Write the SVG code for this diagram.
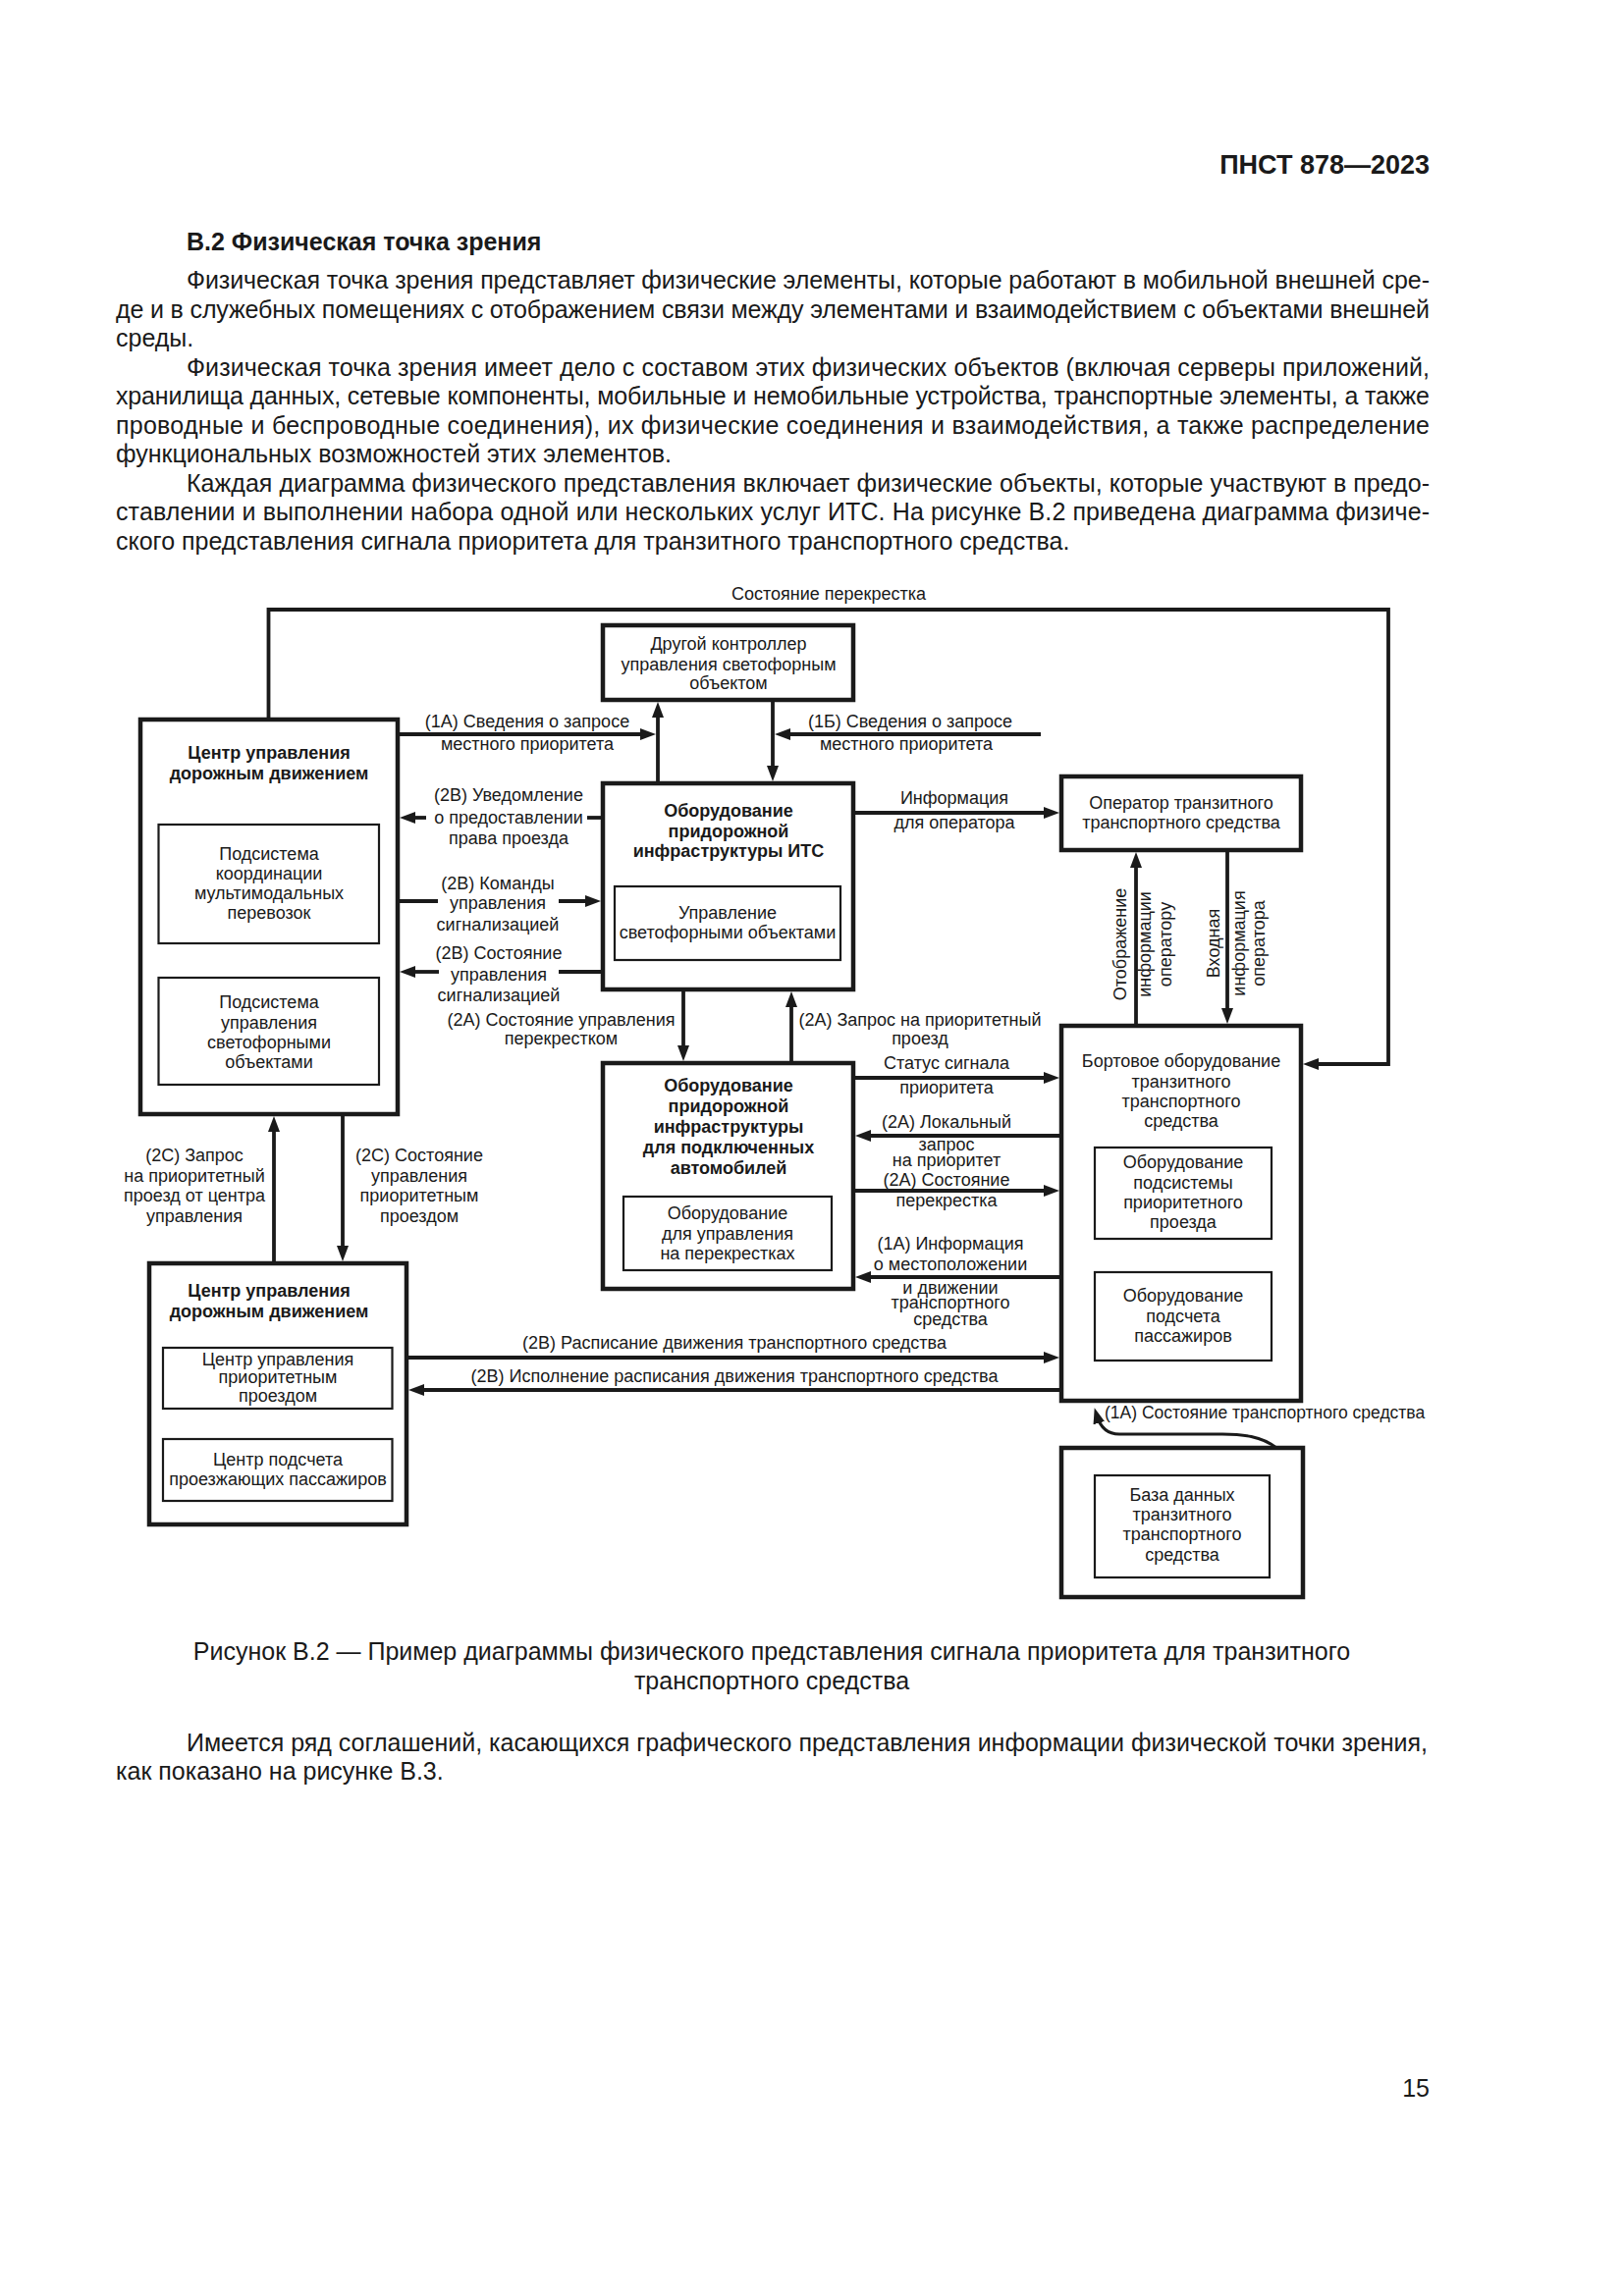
<svg xmlns="http://www.w3.org/2000/svg" width="1654" height="2339" viewBox="0 0 1654 2339">
<style>
.pg{font-family:"Liberation Sans",Arial,sans-serif;font-size:25px;fill:#1a1a1a}
.pb{font-weight:bold}
.t{font-family:"Liberation Sans",Arial,sans-serif;font-size:18px;fill:#1a1a1a;text-anchor:middle}
.b{font-weight:bold}
.ob{fill:#fff;stroke:#1a1a1a;stroke-width:4.5}
.ib{fill:none;stroke:#1a1a1a;stroke-width:2.2}
.c{fill:none;stroke:#1a1a1a;stroke-width:3.8}
.ca{fill:none;stroke:#1a1a1a;stroke-width:3.8;marker-end:url(#ah)}
.cs{fill:none;stroke:#1a1a1a;stroke-width:3;marker-end:url(#ah)}
</style>
<defs>
<marker id="ah" markerUnits="userSpaceOnUse" viewBox="0 0 16 12" refX="8" refY="6" markerWidth="16" markerHeight="12" orient="auto">
<path d="M0,0 L16,6 L0,12 z" fill="#1a1a1a"/>
</marker>
</defs>
<rect x="0" y="0" width="1654" height="2339" fill="#fff"/>

<g id="page">
<text class="pg pb" x="1456" y="177" text-anchor="end" style="font-size:27px">ПНСТ 878—2023</text>
<text class="pg pb" x="190" y="255">В.2 Физическая точка зрения</text>
<text class="pg" x="190" y="294" textLength="1266" lengthAdjust="spacing">Физическая точка зрения представляет физические элементы, которые работают в мобильной внешней сре-</text>
<text class="pg" x="118" y="323.5" textLength="1338" lengthAdjust="spacing">де и в служебных помещениях с отображением связи между элементами и взаимодействием с объектами внешней</text>
<text class="pg" x="118" y="353">среды.</text>
<text class="pg" x="190" y="382.5" textLength="1266" lengthAdjust="spacing">Физическая точка зрения имеет дело с составом этих физических объектов (включая серверы приложений,</text>
<text class="pg" x="118" y="412" textLength="1338" lengthAdjust="spacing">хранилища данных, сетевые компоненты, мобильные и немобильные устройства, транспортные элементы, а также</text>
<text class="pg" x="118" y="441.5" textLength="1338" lengthAdjust="spacing">проводные и беспроводные соединения), их физические соединения и взаимодействия, а также распределение</text>
<text class="pg" x="118" y="471">функциональных возможностей этих элементов.</text>
<text class="pg" x="190" y="500.5" textLength="1266" lengthAdjust="spacing">Каждая диаграмма физического представления включает физические объекты, которые участвуют в предо-</text>
<text class="pg" x="118" y="530" textLength="1338" lengthAdjust="spacing">ставлении и выполнении набора одной или нескольких услуг ИТС. На рисунке В.2 приведена диаграмма физиче-</text>
<text class="pg" x="118" y="559.5">ского представления сигнала приоритета для транзитного транспортного средства.</text>
<text class="pg" x="786" y="1691" text-anchor="middle">Рисунок В.2 — Пример диаграммы физического представления сигнала приоритета для транзитного</text>
<text class="pg" x="786" y="1721" text-anchor="middle">транспортного средства</text>
<text class="pg" x="190" y="1784" textLength="1264" lengthAdjust="spacing">Имеется ряд соглашений, касающихся графического представления информации физической точки зрения,</text>
<text class="pg" x="118" y="1813">как показано на рисунке В.3.</text>
<text class="pg" x="1456" y="2136" text-anchor="end">15</text>
</g>

<g id="connectors">
<polyline class="ca" points="273.5,733 273.5,621 1414,621 1414,1084 1335,1084"/>
<line class="ca" x1="405" y1="748" x2="660" y2="748"/>
<line class="ca" x1="670" y1="798" x2="670" y2="723"/>
<line class="ca" x1="787" y1="713" x2="787" y2="788"/>
<line class="ca" x1="1060" y1="748" x2="797" y2="748"/>
<line class="c" x1="614" y1="833" x2="598" y2="833"/>
<line class="ca" x1="434" y1="833" x2="415" y2="833"/>
<line class="c" x1="405" y1="918" x2="446" y2="918"/>
<line class="ca" x1="569" y1="918" x2="604" y2="918"/>
<line class="c" x1="614" y1="990" x2="569" y2="990"/>
<line class="ca" x1="447" y1="990" x2="415" y2="990"/>
<line class="ca" x1="869" y1="828" x2="1071" y2="828"/>
<line class="ca" x1="1157" y1="1045" x2="1157" y2="876"/>
<line class="ca" x1="1250" y1="866" x2="1250" y2="1035"/>
<line class="ca" x1="696" y1="1008" x2="696" y2="1073"/>
<line class="ca" x1="806" y1="1083" x2="806" y2="1018"/>
<line class="ca" x1="869" y1="1098" x2="1071" y2="1098"/>
<line class="ca" x1="1081" y1="1157" x2="879" y2="1157"/>
<line class="ca" x1="869" y1="1213" x2="1071" y2="1213"/>
<line class="ca" x1="1081" y1="1301" x2="879" y2="1301"/>
<line class="ca" x1="279" y1="1287" x2="279" y2="1145"/>
<line class="ca" x1="349" y1="1135" x2="349" y2="1277"/>
<line class="ca" x1="414" y1="1383" x2="1071" y2="1383"/>
<line class="ca" x1="1081" y1="1416" x2="424" y2="1416"/>
<path class="cs" d="M1300,1475 C1285,1463 1265,1461 1245,1461 L1140,1461 C1127,1461 1120,1452 1117,1442"/>

<text class="t" x="844" y="611">Состояние перекрестка</text>
<text class="t" x="537" y="741">(1А) Сведения о запросе</text>
<text class="t" x="537" y="764">местного приоритета</text>
<text class="t" x="927" y="741">(1Б) Сведения о запросе</text>
<text class="t" x="923" y="764">местного приоритета</text>
<text class="t" x="518" y="816">(2В) Уведомление</text>
<text class="t" x="518" y="839">о предоставлении</text>
<text class="t" x="518" y="859.5">права проезда</text>
<text class="t" x="507" y="905.5">(2В) Команды</text>
<text class="t" x="507" y="926">управления</text>
<text class="t" x="507" y="947.5">сигнализацией</text>
<text class="t" x="508" y="977">(2В) Состояние</text>
<text class="t" x="508" y="998.5">управления</text>
<text class="t" x="508" y="1020">сигнализацией</text>
<text class="t" x="571.5" y="1045">(2А) Состояние управления</text>
<text class="t" x="571.5" y="1064">перекрестком</text>
<text class="t" x="937" y="1045">(2А) Запрос на приоритетный</text>
<text class="t" x="937" y="1064">проезд</text>
<text class="t" x="972" y="818.5">Информация</text>
<text class="t" x="972" y="844">для оператора</text>
<text class="t" transform="translate(1147,962) rotate(-90)" x="0" y="0">Отображение</text>
<text class="t" transform="translate(1172,962) rotate(-90)" x="0" y="0">информации</text>
<text class="t" transform="translate(1193,962) rotate(-90)" x="0" y="0">оператору</text>
<text class="t" transform="translate(1242,961) rotate(-90)" x="0" y="0">Входная</text>
<text class="t" transform="translate(1268,961) rotate(-90)" x="0" y="0">информация</text>
<text class="t" transform="translate(1288,961) rotate(-90)" x="0" y="0">оператора</text>
<text class="t" x="964" y="1089">Статус сигнала</text>
<text class="t" x="964" y="1114">приоритета</text>
<text class="t" x="964" y="1149">(2А) Локальный</text>
<text class="t" x="964" y="1171.5">запрос</text>
<text class="t" x="964" y="1187.5">на приоритет</text>
<text class="t" x="964" y="1207.5">(2А) Состояние</text>
<text class="t" x="964" y="1229">перекрестка</text>
<text class="t" x="968" y="1273">(1А) Информация</text>
<text class="t" x="968" y="1294">о местоположении</text>
<text class="t" x="968" y="1317.5">и движении</text>
<text class="t" x="968" y="1333">транспортного</text>
<text class="t" x="968" y="1350">средства</text>
<text class="t" x="198" y="1182.5">(2С) Запрос</text>
<text class="t" x="198" y="1203.5">на приоритетный</text>
<text class="t" x="198" y="1224">проезд от центра</text>
<text class="t" x="198" y="1245">управления</text>
<text class="t" x="427" y="1182.5">(2С) Состояние</text>
<text class="t" x="427" y="1203.5">управления</text>
<text class="t" x="427" y="1224">приоритетным</text>
<text class="t" x="427" y="1245">проездом</text>
<text class="t" x="748" y="1374">(2В) Расписание движения транспортного средства</text>
<text class="t" x="748" y="1407.5">(2В) Исполнение расписания движения транспортного средства</text>
<text class="t" x="1125" y="1445" style="text-anchor:start;font-size:17.5px">(1А) Состояние транспортного средства</text>
</g>

<g id="n-tmc">
<rect class="ob" x="143" y="733" width="262" height="402"/>
<text class="t b" x="274" y="773">Центр управления</text>
<text class="t b" x="274" y="793.5">дорожным движением</text>
<rect class="ib" x="161.5" y="840" width="224.5" height="121"/>
<text class="t" x="274" y="875.5">Подсистема</text>
<text class="t" x="274" y="896">координации</text>
<text class="t" x="274" y="916">мультимодальных</text>
<text class="t" x="274" y="936">перевозок</text>
<rect class="ib" x="161.5" y="996" width="224.5" height="109"/>
<text class="t" x="274" y="1027">Подсистема</text>
<text class="t" x="274" y="1047.5">управления</text>
<text class="t" x="274" y="1067.5">светофорными</text>
<text class="t" x="274" y="1087.5">объектами</text>
</g>

<g id="n-other">
<rect class="ob" x="614" y="637" width="255" height="76"/>
<text class="t" x="742" y="662">Другой контроллер</text>
<text class="t" x="742" y="682.5">управления светофорным</text>
<text class="t" x="742" y="702">объектом</text>
</g>

<g id="n-its">
<rect class="ob" x="614" y="798" width="255" height="210"/>
<text class="t b" x="742" y="832">Оборудование</text>
<text class="t b" x="742" y="852.5">придорожной</text>
<text class="t b" x="742" y="873">инфраструктуры ИТС</text>
<rect class="ib" x="626" y="903" width="230" height="75"/>
<text class="t" x="741" y="936">Управление</text>
<text class="t" x="741" y="956">светофорными объектами</text>
</g>

<g id="n-operator">
<rect class="ob" x="1081" y="791" width="244" height="75"/>
<text class="t" x="1203" y="823.5">Оператор транзитного</text>
<text class="t" x="1203" y="843.5">транспортного средства</text>
</g>

<g id="n-connected">
<rect class="ob" x="614" y="1083" width="255" height="230"/>
<text class="t b" x="742" y="1112">Оборудование</text>
<text class="t b" x="742" y="1133">придорожной</text>
<text class="t b" x="742" y="1154">инфраструктуры</text>
<text class="t b" x="742" y="1175">для подключенных</text>
<text class="t b" x="742" y="1196">автомобилей</text>
<rect class="ib" x="635" y="1219" width="212" height="75"/>
<text class="t" x="741" y="1242">Оборудование</text>
<text class="t" x="741" y="1262.5">для управления</text>
<text class="t" x="741" y="1282.5">на перекрестках</text>
</g>

<g id="n-onboard">
<rect class="ob" x="1081" y="1045" width="244" height="382"/>
<text class="t" x="1203" y="1086.5">Бортовое оборудование</text>
<text class="t" x="1203" y="1107.5">транзитного</text>
<text class="t" x="1203" y="1127.5">транспортного</text>
<text class="t" x="1203" y="1147.5">средства</text>
<rect class="ib" x="1115" y="1169" width="180" height="93"/>
<text class="t" x="1205" y="1190">Оборудование</text>
<text class="t" x="1205" y="1211">подсистемы</text>
<text class="t" x="1205" y="1231">приоритетного</text>
<text class="t" x="1205" y="1251">проезда</text>
<rect class="ib" x="1115" y="1296" width="180" height="90"/>
<text class="t" x="1205" y="1326">Оборудование</text>
<text class="t" x="1205" y="1346.5">подсчета</text>
<text class="t" x="1205" y="1366.5">пассажиров</text>
</g>

<g id="n-tmc2">
<rect class="ob" x="152" y="1287" width="262" height="266"/>
<text class="t b" x="274" y="1321">Центр управления</text>
<text class="t b" x="274" y="1341.5">дорожным движением</text>
<rect class="ib" x="166" y="1373" width="233.5" height="62"/>
<text class="t" x="283" y="1391">Центр управления</text>
<text class="t" x="283" y="1409">приоритетным</text>
<text class="t" x="283" y="1427.5">проездом</text>
<rect class="ib" x="166" y="1466" width="233.5" height="63"/>
<text class="t" x="283" y="1492.5">Центр подсчета</text>
<text class="t" x="283" y="1512.5">проезжающих пассажиров</text>
</g>

<g id="n-db">
<rect class="ob" x="1081" y="1475" width="246" height="152"/>
<rect class="ib" x="1115" y="1503" width="178" height="104"/>
<text class="t" x="1204" y="1528.5">База данных</text>
<text class="t" x="1204" y="1549">транзитного</text>
<text class="t" x="1204" y="1569">транспортного</text>
<text class="t" x="1204" y="1590">средства</text>
</g>
</svg>
